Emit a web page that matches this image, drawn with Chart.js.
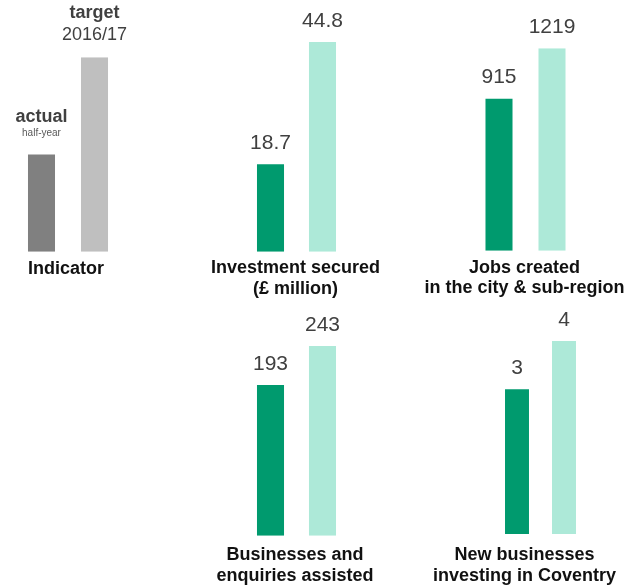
<!DOCTYPE html>
<html><head><meta charset="utf-8">
<script src="https://cdn.jsdelivr.net/npm/chart.js@4.4.0/dist/chart.umd.min.js"></script>
<style>
html,body{margin:0;padding:0;background:#fff;}
#wrap{position:relative;width:642px;height:585px;overflow:hidden;background:#fff;}
#wrap canvas{position:absolute;}
</style></head><body><div id="wrap"></div>
<script>
// ---- data ----
const seriesNames = ['actual', 'target'];
const seriesSubNames = ['half-year', '2016/17'];
const legendValues = [1, 2];
const indicatorTitle = ['Indicator'];
const investmentTitle = ['Investment secured', '(£ million)'];
const investmentValues = [18.7, 44.8];
const jobsTitle = ['Jobs created', 'in the city & sub-region'];
const jobsValues = [915, 1219];
const businessesTitle = ['Businesses and', 'enquiries assisted'];
const businessesValues = [193, 243];
const newBusinessesTitle = ['New businesses', 'investing in Coventry'];
const newBusinessesValues = [3, 4];

// ---- styles ----
const FONT = "'Liberation Sans', Arial, Helvetica, sans-serif";
const greenColors = ['#009A6E', '#ADE9D8'];
const greyColors = ['#808080', '#BFBFBF'];
const valueFont = '21px ' + FONT;
const valueColor = '#404040';

function valueLines(values) {
  return values.map(v => [{ text: String(v), font: valueFont, color: valueColor, gap: 15.5 }]);
}

const panels = [
  { values: legendValues, colors: greyColors, title: indicatorTitle,
    box: { left: 0, top: 0, w: 150, h: 300 }, area: { l: 15, r: 121, t: 57.3, b: 251.7 },
    barPct: 0.51, titleDx: -2, titleGap: 22.5, lineH: 20.5,
    above: [
      [{ text: seriesNames[0], font: 'bold 18px ' + FONT, color: '#404040', gap: 33 },
       { text: seriesSubNames[0], font: '10px ' + FONT, color: '#595959', gap: 18.5 }],
      [{ text: seriesNames[1], font: 'bold 18px ' + FONT, color: '#404040', gap: 39 },
       { text: seriesSubNames[1], font: '18px ' + FONT, color: '#404040', gap: 17 }]
    ] },
  { values: investmentValues, colors: greenColors, title: investmentTitle,
    box: { left: 190, top: 0, w: 220, h: 300 }, area: { l: 54.5, r: 158.5, t: 42, b: 251.7 },
    barPct: 0.52, titleDx: -1, titleGap: 21.5, lineH: 20.5, above: valueLines(investmentValues) },
  { values: jobsValues, colors: greenColors, title: jobsTitle,
    box: { left: 410, top: 0, w: 232, h: 300 }, area: { l: 62.5, r: 168.5, t: 48.3, b: 250.7 },
    barPct: 0.51, titleDx: -1, titleGap: 22, lineH: 20.5, above: valueLines(jobsValues) },
  { values: businessesValues, colors: greenColors, title: businessesTitle,
    box: { left: 190, top: 300, w: 220, h: 285 }, area: { l: 54.5, r: 158.5, t: 46, b: 235.7 },
    barPct: 0.52, titleDx: -1.5, titleGap: 24.5, lineH: 21, above: valueLines(businessesValues) },
  { values: newBusinessesValues, colors: greenColors, title: newBusinessesTitle,
    box: { left: 410, top: 300, w: 232, h: 285 }, area: { l: 83.5, r: 177.5, t: 41, b: 234 },
    barPct: 0.51, titleDx: -16, titleGap: 26, lineH: 21, above: valueLines(newBusinessesValues) }
];

const labelPlugin = {
  id: 'panelLabels',
  afterDatasetsDraw(chart, args, opts) {
    const ctx = chart.ctx;
    const meta = chart.getDatasetMeta(0);
    const ca = chart.chartArea;
    ctx.save();
    ctx.textAlign = 'center';
    ctx.textBaseline = 'alphabetic';
    meta.data.forEach((bar, i) => {
      (opts.above[i] || []).forEach(l => {
        ctx.font = l.font;
        ctx.fillStyle = l.color;
        ctx.fillText(l.text, bar.x, bar.y - l.gap);
      });
    });
    const cx = (ca.left + ca.right) / 2 + opts.titleDx;
    ctx.font = 'bold 18px ' + FONT;
    ctx.fillStyle = '#111111';
    opts.title.forEach((t, k) => ctx.fillText(t, cx, ca.bottom + opts.titleGap + k * opts.lineH));
    ctx.restore();
  }
};

const wrap = document.getElementById('wrap');
panels.forEach(p => {
  const c = document.createElement('canvas');
  c.width = p.box.w; c.height = p.box.h;
  c.style.left = p.box.left + 'px'; c.style.top = p.box.top + 'px';
  c.style.width = p.box.w + 'px'; c.style.height = p.box.h + 'px';
  wrap.appendChild(c);
  new Chart(c, {
    type: 'bar',
    data: {
      labels: seriesNames,
      datasets: [{ data: p.values, backgroundColor: p.colors, borderWidth: 0,
                   barPercentage: p.barPct, categoryPercentage: 1 }]
    },
    options: {
      responsive: false,
      animation: false,
      devicePixelRatio: 1,
      layout: { padding: { left: p.area.l, right: p.box.w - p.area.r, top: p.area.t, bottom: p.box.h - p.area.b } },
      scales: {
        x: { display: false },
        y: { display: false, min: 0, max: Math.max(...p.values) }
      },
      plugins: {
        legend: { display: false },
        tooltip: { enabled: false },
        panelLabels: { above: p.above, title: p.title, titleDx: p.titleDx, titleGap: p.titleGap, lineH: p.lineH }
      }
    },
    plugins: [labelPlugin]
  });
});
</script></body></html>
